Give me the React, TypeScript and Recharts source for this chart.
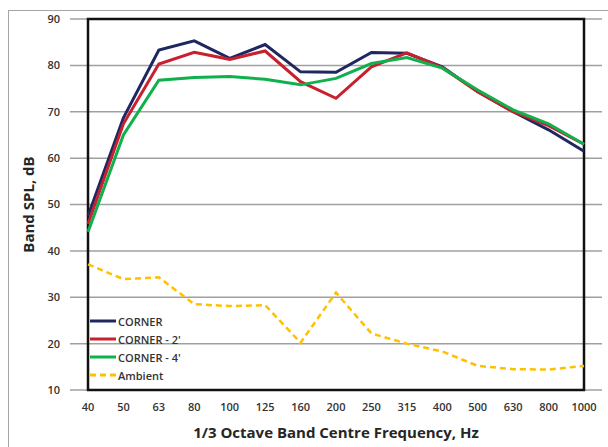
import { CartesianGrid, Legend, Line, LineChart, ReferenceArea, XAxis, YAxis } from "recharts";

const frequencies = ["40", "50", "63", "80", "100", "125", "160", "200", "250", "315", "400", "500", "630", "800", "1000"];
const corner = [47.5, 68.7, 83.3, 85.3, 81.5, 84.5, 78.6, 78.5, 82.8, 82.6, 79.7, 74.3, 70.0, 66.1, 61.5];
const corner2 = [45.8, 67.4, 80.3, 82.8, 81.3, 83.1, 76.5, 72.9, 79.7, 82.7, 79.5, 74.3, 70.0, 67.0, 63.0];
const corner4 = [44.1, 65.0, 76.8, 77.4, 77.6, 77.0, 75.8, 77.2, 80.4, 81.7, 79.4, 74.7, 70.4, 67.4, 63.0];
const ambient = [37.1, 33.9, 34.3, 28.5, 28.1, 28.3, 20.2, 31.0, 22.2, 20.0, 18.3, 15.2, 14.5, 14.4, 15.2];
const yTicks = [10, 20, 30, 40, 50, 60, 70, 80, 90];

const series = [
  { key: "corner", name: "CORNER", color: "#1F2660", dash: undefined },
  { key: "corner2", name: "CORNER - 2'", color: "#C8202E", dash: undefined },
  { key: "corner4", name: "CORNER - 4'", color: "#10B04C", dash: undefined },
  { key: "ambient", name: "Ambient", color: "#FFC000", dash: "6 4" },
];

const data = frequencies.map((f, i) => ({
  freq: f,
  corner: corner[i],
  corner2: corner2[i],
  corner4: corner4[i],
  ambient: ambient[i],
}));

const font = "'Open Sans', sans-serif";

function LegendBox() {
  return (
    <div style={{ fontFamily: font, fontSize: 11, fontWeight: 600, color: "#333" }}>
      {series.map((s) => (
        <div key={s.key} style={{ display: "flex", alignItems: "center", height: 18 }}>
          <svg width={26} height={6} style={{ marginRight: 2 }}>
            <line x1={0} y1={3} x2={26} y2={3} stroke={s.color} strokeWidth={3} strokeDasharray={s.dash} />
          </svg>
          <span>{s.name}</span>
        </div>
      ))}
    </div>
  );
}

export default function App() {
  return (
    <div style={{ position: "absolute", left: 0, top: 0, width: 608, height: 447, background: "#fff", overflow: "hidden" }}>
      <div
        style={{
          position: "absolute",
          left: 8,
          top: 10,
          width: 620,
          height: 460,
          borderLeft: "1px solid #A6A6A6",
          borderTop: "1px solid #A6A6A6",
        }}
      />
      <div style={{ position: "absolute", left: 0, top: 0 }}>
        <LineChart width={608} height={447} data={data} margin={{ top: 19, right: 6, bottom: 27, left: 10 }}>
          <CartesianGrid vertical={false} stroke="#A0A0A0" strokeWidth={1.5} />
          <ReferenceArea y1={10} y2={90} fill="none" stroke="#111" strokeWidth={2.5} />
          <XAxis
            dataKey="freq"
            padding={{ left: 18, right: 18 }}
            axisLine={false}
            tickLine={false}
            tickMargin={7}
            height={30}
            tick={{ fontFamily: font, fontSize: 11, fontWeight: 600, fill: "#333" }}
            label={{
              value: "1/3 Octave Band Centre Frequency, Hz",
              position: "insideBottom",
              offset: -18,
              style: { fontFamily: font, fontSize: 15, fontWeight: 700, fill: "#262626" },
            }}
          />
          <YAxis
            domain={[10, 90]}
            ticks={yTicks}
            width={60}
            axisLine={false}
            tickLine={false}
            tickMargin={4}
            tick={{ fontFamily: font, fontSize: 11, fontWeight: 600, fill: "#333" }}
            label={{
              value: "Band SPL, dB",
              angle: -90,
              position: "insideLeft",
              offset: 19,
              style: { textAnchor: "middle", fontFamily: font, fontSize: 15, fontWeight: 700, fill: "#262626" },
            }}
          />
          <Legend
            layout="vertical"
            align="center"
            verticalAlign="middle"
            wrapperStyle={{ left: 90, top: 312, width: 120 }}
            content={() => <LegendBox />}
          />
          {series.map((s) => (
            <Line
              key={s.key}
              dataKey={s.key}
              name={s.name}
              stroke={s.color}
              strokeWidth={s.dash ? 2.5 : 3}
              strokeDasharray={s.dash}
              dot={false}
              activeDot={false}
              type="linear"
              isAnimationActive={false}
            />
          ))}
        </LineChart>
      </div>
    </div>
  );
}
